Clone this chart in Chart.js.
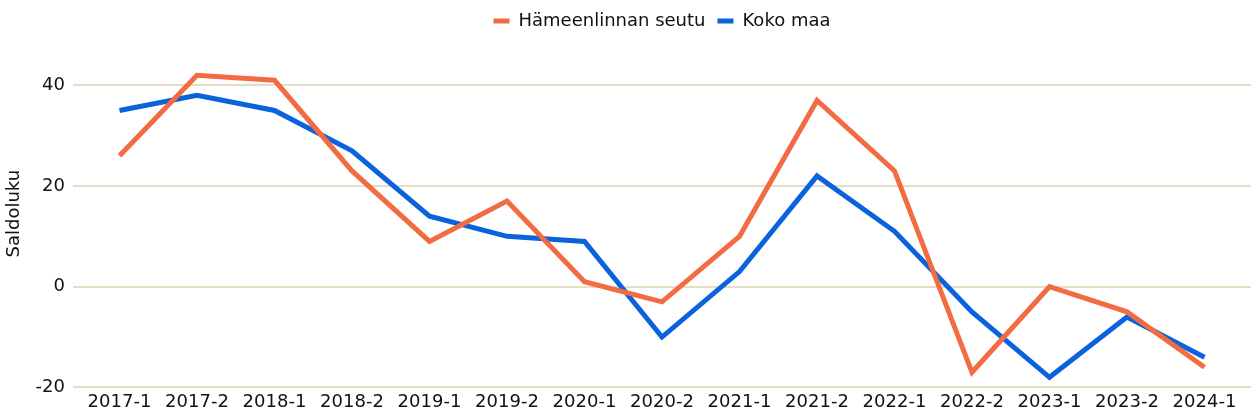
<!DOCTYPE html>
<html>
<head>
<meta charset="utf-8">
<script src="https://cdn.jsdelivr.net/npm/chart.js@4"></script>
<style>
  html, body { margin: 0; padding: 0; background: #fff; }
  #wrap { width: 1251px; height: 419px; }
</style>
</head>
<body>
<div id="wrap"><canvas id="myChart"></canvas></div>
<script>
const labels = ['2017-1', '2017-2', '2018-1', '2018-2', '2019-1', '2019-2', '2020-1', '2020-2',
                '2021-1', '2021-2', '2022-1', '2022-2', '2023-1', '2023-2', '2024-1'];
const hameenlinna = [26, 42, 41, 23, 9, 17, 1, -3, 10, 37, 23, -17, 0, -5, -16];
const kokoMaa = [35, 38, 35, 27, 14, 10, 9, -10, 3, 22, 11, -5, -18, -6, -14];
const yTicks = [-20, 0, 20, 40];

Chart.defaults.font.family = '"DejaVu Sans", sans-serif';
Chart.defaults.font.size = 18;
Chart.defaults.color = '#111';

// points placed by index on a linear x axis, labels come from the labels array
function toPoints(values) {
    return values.map((v, i) => ({ x: i, y: v }));
}

const ctx = document.getElementById('myChart');

new Chart(ctx, {
    type: 'line',
    data: {
        datasets: [{
            label: 'Hämeenlinnan seutu',
            data: toPoints(hameenlinna),
            borderColor: '#F26B43',
            backgroundColor: '#F26B43',
            borderWidth: 5,
            pointRadius: 0,
            tension: 0
        },
        {
            label: 'Koko maa',
            data: toPoints(kokoMaa),
            borderColor: '#0A62DC',
            backgroundColor: '#0A62DC',
            borderWidth: 5,
            pointRadius: 0,
            tension: 0
        }]
    },
    options: {
        responsive: true,
        maintainAspectRatio: false,
        animation: false,
        layout: {
            padding: { left: 2, right: 0, top: 0, bottom: 2 }
        },
        plugins: {
            legend: {
                fullSize: false,
                labels: {
                    boxWidth: 16,
                    boxHeight: 5,
                    padding: 12,
                    font: { size: 18 },
                    generateLabels: (chart) => {
                        const items = Chart.defaults.plugins.legend.labels.generateLabels(chart);
                        items.forEach(it => { it.lineWidth = 0; });
                        return items;
                    }
                }
            },
            tooltip: { enabled: false }
        },
        scales: {
            x: {
                type: 'linear',
                min: -0.6,
                max: labels.length - 1 + 0.6,
                afterBuildTicks: (axis) => {
                    axis.ticks = labels.map((l, i) => ({ value: i }));
                },
                grid: { display: false, drawTicks: false },
                border: { display: false },
                ticks: {
                    maxRotation: 0,
                    autoSkip: false,
                    padding: 4,
                    callback: (v) => labels[v]
                }
            },
            y: {
                min: -20,
                max: 49,
                afterBuildTicks: (axis) => {
                    axis.ticks = yTicks.map(v => ({ value: v }));
                },
                grid: { color: '#E6DDC6', lineWidth: 2, drawTicks: false },
                border: { display: false },
                ticks: { padding: 8 },
                title: {
                    display: true,
                    text: 'Saldoluku',
                    font: { size: 18 },
                    padding: 2
                }
            }
        }
    }
});
</script>
</body>
</html>
